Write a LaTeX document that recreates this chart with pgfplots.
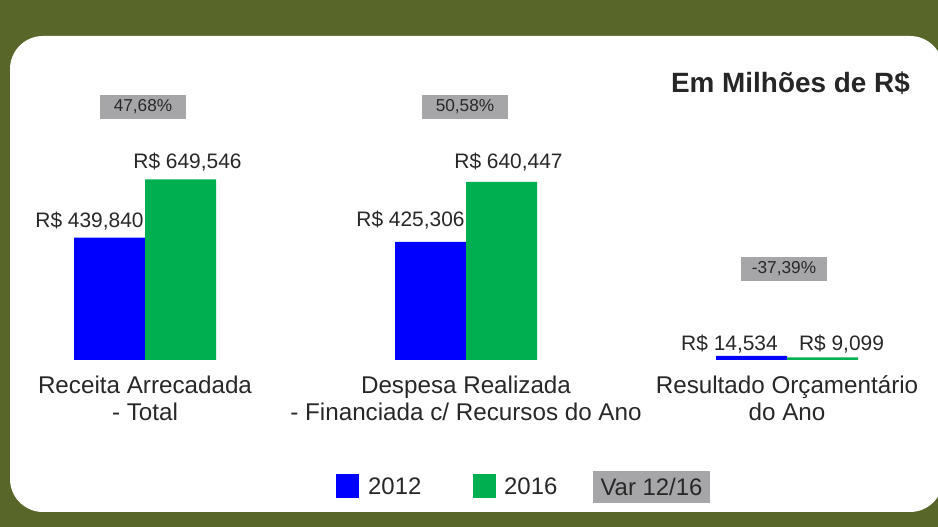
\documentclass[border=0pt]{standalone}
\usepackage{pgfplots}
\pgfplotsset{compat=1.18}
\usepackage{fontspec}
\setmainfont{Liberation Sans}
\definecolor{bg}{RGB}{89,102,42}
\definecolor{b12}{RGB}{0,0,255}
\definecolor{g16}{RGB}{0,176,80}
\definecolor{boxg}{RGB}{166,166,169}
\definecolor{txt}{RGB}{40,40,40}
\tikzset{
  lab/.style={font=\fontsize{21}{25}\selectfont, text=txt, inner sep=0pt},
  vbox/.style={fill=boxg, minimum width=86bp, minimum height=24bp, inner sep=0pt, font=\fontsize{17.3}{20}\selectfont, text=txt},
}
\begin{document}
\begin{tikzpicture}[x=1bp,y=1bp]
\clip (0,0) rectangle (938,527);
\fill[bg] (0,0) rectangle (938,527);
\fill[white, rounded corners=33bp] (10,15) rectangle (943,491);
\begin{axis}[
  at={(16.6bp,167bp)}, anchor=south west, scale only axis,
  width=898.8bp, height=194.6bp,
  xmin=-0.4, xmax=2.4, ymin=0, ymax=700,
  ybar=0pt, bar width=71bp,
  axis line style={draw=none}, ytick=\empty, xtick={0,1,2}, major tick length=0pt,
  xticklabels={{Receita Arrecadada\\- Total},{Despesa Realizada\\- Financiada c/ Recursos do Ano},{Resultado Orçamentário\\do Ano}},
  xticklabel style={align=center, font=\fontsize{24.3}{27}\selectfont, text=txt, anchor=center, yshift=-38.5bp, inner sep=0pt},
  clip=false,
]
\addplot[fill=b12, draw=none] coordinates {(0,439.840) (1,425.306) (2,14.534)};
\addplot[fill=g16, draw=none] coordinates {(0,649.546) (1,640.447) (2,9.099)};
\node[lab, xshift=-55.5bp, yshift=17bp] at (axis cs:0,439.840) {R\$ 439,840};
\node[lab, xshift=42.5bp, yshift=17bp] at (axis cs:0,649.546) {R\$ 649,546};
\node[lab, xshift=-55.5bp, yshift=22bp] at (axis cs:1,425.306) {R\$ 425,306};
\node[lab, xshift=42.5bp, yshift=19.5bp] at (axis cs:1,640.447) {R\$ 640,447};
\node[lab, xshift=-57.5bp, yshift=12bp] at (axis cs:2,14.534) {R\$ 14,534};
\node[lab, xshift=54.5bp, yshift=13.5bp] at (axis cs:2,9.099) {R\$ 9,099};
\node[vbox, xshift=-2bp] at (axis cs:0,910) {47,68\%};
\node[vbox, xshift=-1bp] at (axis cs:1,910) {50,58\%};
\node[vbox, xshift=-3bp] at (axis cs:2,329) {-37,39\%};
\end{axis}
\node[anchor=east, inner sep=0pt, font=\fontsize{28}{32}\selectfont\bfseries, text=black!85] at (910,444) {Em Milhões de R\$};
\fill[b12] (336,29) rectangle (359,53);
\node[anchor=west, inner sep=0pt, font=\fontsize{24}{28}\selectfont, text=txt] at (368,41) {2012};
\fill[g16] (473,29) rectangle (496,53);
\node[anchor=west, inner sep=0pt, font=\fontsize{24}{28}\selectfont, text=txt] at (504,41) {2016};
\fill[boxg] (593,24) rectangle (710,56);
\node[inner sep=0pt, font=\fontsize{24}{28}\selectfont, text=txt] at (651.5,40) {Var 12/16};
\end{tikzpicture}
\end{document}
